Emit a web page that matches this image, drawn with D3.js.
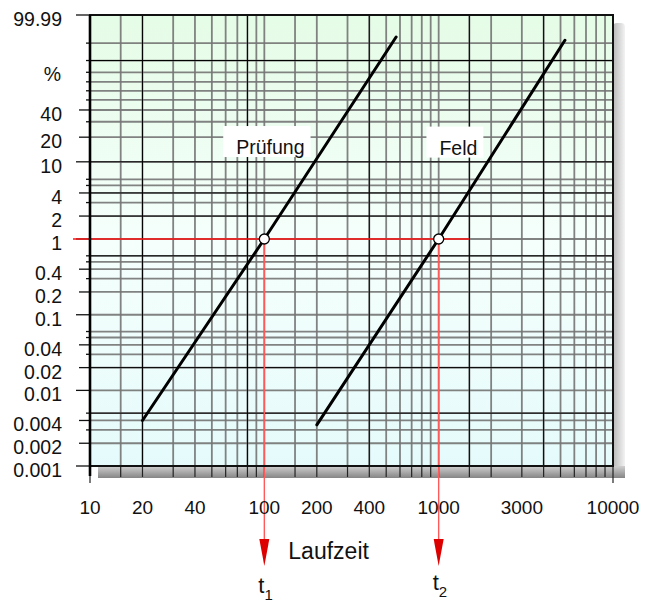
<!DOCTYPE html>
<html>
<head>
<meta charset="utf-8">
<script src="https://cdn.jsdelivr.net/npm/d3@7"></script>
<style>
  html, body { margin: 0; padding: 0; background: #fff; }
  svg { display: block; font-family: "Liberation Sans", Arial, sans-serif; }
</style>
</head>
<body>
<svg id="chart" width="651" height="603"></svg>
<script>
// ---------------- data ----------------
const xGrid = [10, 15, 20, 30, 40, 50, 60, 70, 80, 90, 100, 150, 200, 300, 400, 500, 600, 700, 800, 900,
               1000, 1500, 2000, 3000, 4000, 5000, 6000, 7000, 8000, 9000, 10000];
const xLabels = [10, 20, 40, 100, 200, 400, 1000, 3000, 10000];
const xBlack = [20, 80, 400, 1500, 4000];

const yGrid = [99.99, 98, 90, 80, 70, 60, 50, 40, 30, 20, 10, 6, 5, 4, 3, 2, 1, 0.6, 0.5, 0.4, 0.3, 0.2, 0.1,
               0.06, 0.05, 0.04, 0.03, 0.02, 0.01, 0.005, 0.004, 0.003, 0.002, 0.001];
const yLabels = ["99.99", "40", "20", "10", "4", "2", "1", "0.4", "0.2", "0.1", "0.04", "0.02", "0.01",
                 "0.004", "0.002", "0.001"];
const yMajor = [99.99, 10, 1, 0.1, 0.01, 0.001];
const yBlack = [90, 10, 4, 2, 0.6, 0.02, 0.005];

const seriesNames = ["Prüfung", "Feld"];
const pruefungT = [20, 100, 570];
const pruefungF = [0.004, 1, 99.1];
const feldT = [200, 1000, 5300];
const feldF = [0.0035, 1, 98.6];

const markerT = [100, 1000];     // t1, t2
const markerF = 1;               // percent
const markerNames = ["1", "2"];
const refLineEndT = 1500;

const xTitle = "Laufzeit";
const unitLabel = "%";

// ---------------- layout ----------------
const svg = d3.select("#chart");
const L = 90, R = 613, T = 15, B = 466;

const x = d3.scaleLog().domain([10, 10000]).range([L, R]);
const lnln = p => Math.log(-Math.log(1 - p / 100));
const yLin = d3.scaleLinear().domain([lnln(0.001), lnln(99.99)]).range([B, T]);
const y = p => yLin(lnln(p));

const defs = svg.append("defs");
const bg = defs.append("linearGradient").attr("id", "bg").attr("x1", 0).attr("y1", 0).attr("x2", 0).attr("y2", 1);
bg.append("stop").attr("offset", "0%").attr("stop-color", "#e5fce6");
bg.append("stop").attr("offset", "50%").attr("stop-color", "#f5fffc");
bg.append("stop").attr("offset", "100%").attr("stop-color", "#e5fbfb");
const shR = defs.append("linearGradient").attr("id", "shR").attr("x1", 0).attr("y1", 0).attr("x2", 1).attr("y2", 0);
shR.append("stop").attr("offset", "0%").attr("stop-color", "#b8b8b8");
shR.append("stop").attr("offset", "100%").attr("stop-color", "#f3f3f3");
const shB = defs.append("linearGradient").attr("id", "shB").attr("x1", 0).attr("y1", 0).attr("x2", 0).attr("y2", 1);
shB.append("stop").attr("offset", "0%").attr("stop-color", "#d0d0d0");
shB.append("stop").attr("offset", "100%").attr("stop-color", "#858585");
defs.append("clipPath").attr("id", "plotClip").append("rect")
  .attr("x", L).attr("y", T).attr("width", R - L).attr("height", B - T);

// shadow
svg.append("rect").attr("x", R).attr("y", T + 8).attr("width", 12).attr("height", B - T + 4)
  .attr("rx", 4).attr("fill", "url(#shR)");
svg.append("rect").attr("x", L + 8).attr("y", B).attr("width", R - L + 4).attr("height", 12)
  .attr("fill", "url(#shB)");

// background
svg.append("rect").attr("x", L).attr("y", T).attr("width", R - L).attr("height", B - T).attr("fill", "url(#bg)");

const grid = svg.append("g").attr("clip-path", "url(#plotClip)");
// gray grid
grid.selectAll("line.vg").data(xGrid).join("line").attr("class", "vg")
  .attr("x1", d => x(d)).attr("x2", d => x(d)).attr("y1", T).attr("y2", B)
  .attr("stroke", "#747474").attr("stroke-width", 1.8).attr("stroke-opacity", 0.9);
grid.selectAll("line.hg").data(yGrid).join("line").attr("class", "hg")
  .attr("y1", d => y(d)).attr("y2", d => y(d)).attr("x1", L).attr("x2", R)
  .attr("stroke", "#747474").attr("stroke-width", 1.8).attr("stroke-opacity", 0.9);
// black accent lines
grid.selectAll("line.vb").data(xBlack).join("line").attr("class", "vb")
  .attr("x1", d => x(d)).attr("x2", d => x(d)).attr("y1", T).attr("y2", B)
  .attr("stroke", "#000").attr("stroke-width", 1);
grid.selectAll("line.hb").data(yBlack).join("line").attr("class", "hb")
  .attr("y1", d => y(d)).attr("y2", d => y(d)).attr("x1", L).attr("x2", R)
  .attr("stroke", "#000").attr("stroke-width", 1);

// bottom ticks
svg.selectAll("line.xt").data(xGrid).join("line").attr("class", "xt")
  .attr("x1", d => x(d)).attr("x2", d => x(d)).attr("y1", B)
  .attr("y2", d => (d === 10 || d === 10000) ? B + 17 : B + 11)
  .attr("stroke", "#222").attr("stroke-width", 1.2);

// left ticks
const labeledVals = yLabels.map(Number);
svg.selectAll("line.yt").data(yGrid).join("line").attr("class", "yt")
  .attr("y1", d => y(d)).attr("y2", d => y(d)).attr("x2", L)
  .attr("x1", d => yMajor.includes(d) ? L - 14 : (labeledVals.includes(d) ? L - 11 : L - 4))
  .attr("stroke", "#111").attr("stroke-width", 1.3);

// red reference lines
const red = svg.append("g");
red.append("line").attr("x1", L - 17).attr("x2", x(refLineEndT)).attr("y1", y(markerF)).attr("y2", y(markerF))
  .attr("stroke", "#ff1010").attr("stroke-width", 1.5);
markerT.forEach((t, i) => {
  const cx = x(t);
  red.append("line").attr("x1", cx).attr("x2", cx).attr("y1", y(markerF)).attr("y2", 545)
    .attr("stroke", "#ff5a5a").attr("stroke-width", 1.4);
  red.append("path").attr("d", `M${cx - 5},539 L${cx + 5},539 L${cx},566 Z`).attr("fill", "#dd0000");
  const tt = svg.append("text").attr("x", cx - 6).attr("y", i === 0 ? 593 : 590)
    .attr("font-size", 22).attr("fill", "#111");
  tt.append("tspan").text("t");
  tt.append("tspan").attr("dy", 7).attr("font-size", 15).text(markerNames[i]);
});

// Weibull lines
const series = [
  { name: seriesNames[0], t: pruefungT, f: pruefungF, lx: 69, lp: 12.5 },
  { name: seriesNames[1], t: feldT, f: feldF, lx: 1010, lp: 12.3 }
];
const line = d3.line().x(d => x(d[0])).y(d => y(d[1]));
series.forEach(s => {
  svg.append("path").datum(s.t.map((t, i) => [t, s.f[i]])).attr("d", line)
    .attr("fill", "none").attr("stroke", "#000").attr("stroke-width", 3).attr("stroke-linecap", "round");
});
markerT.forEach(t => {
  svg.append("circle").attr("cx", x(t)).attr("cy", y(markerF)).attr("r", 5)
    .attr("fill", "#fff").attr("stroke", "#000").attr("stroke-width", 1.3);
});

// series labels with white boxes
series.forEach(s => {
  const g = svg.append("g");
  const txt = g.append("text").attr("x", x(s.lx)).attr("y", y(s.lp)).attr("font-size", 19.5)
    .attr("fill", "#111").text(s.name);
  const bb = txt.node().getBBox();
  g.insert("rect", "text").attr("x", bb.x - 13).attr("y", bb.y - 10)
    .attr("width", bb.width + 19).attr("height", bb.height + 9).attr("fill", "#fff");
});

// border
svg.append("rect").attr("x", L).attr("y", T).attr("width", R - L).attr("height", B - T)
  .attr("fill", "none").attr("stroke", "#111").attr("stroke-width", 2);
svg.append("line").attr("x1", L).attr("x2", L).attr("y1", T).attr("y2", B + 10)
  .attr("stroke", "#000").attr("stroke-width", 2.6);

// y labels
svg.selectAll("text.yl").data(yLabels).join("text").attr("class", "yl")
  .attr("x", 62).attr("y", d => y(+d) + 11).attr("text-anchor", "end")
  .attr("font-size", 19.5).attr("fill", "#111").text(d => d);
svg.append("text").attr("x", 61).attr("y", y(80) + 9).attr("text-anchor", "end")
  .attr("font-size", 19.5).attr("fill", "#111").text(unitLabel);

// x labels
svg.selectAll("text.xl").data(xLabels).join("text").attr("class", "xl")
  .attr("x", d => x(d)).attr("y", 514).attr("text-anchor", "middle")
  .attr("font-size", 19).attr("fill", "#111").text(d => d);
svg.append("text").attr("x", x(100) + 24).attr("y", 559).attr("font-size", 23)
  .attr("fill", "#111").text(xTitle);
</script>
</body>
</html>
